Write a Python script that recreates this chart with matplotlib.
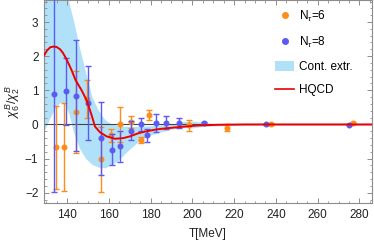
import matplotlib
matplotlib.use("Agg")
import matplotlib.pyplot as plt
from matplotlib.lines import Line2D
from matplotlib.patches import Patch
from matplotlib.ticker import MultipleLocator

plt.rcParams['font.family'] = ['Liberation Sans', 'DejaVu Sans']
plt.rcParams['mathtext.fontset'] = 'custom'
plt.rcParams['mathtext.rm'] = 'Liberation Sans'
plt.rcParams['mathtext.it'] = 'Liberation Sans:italic'

# N_tau = 8 lattice data
T8 = [133.8, 139.5, 144.1, 150.2, 156.1, 161.5, 165.4, 170.6, 175.3, 178.2, 182.6, 187.4, 193.5, 205.6, 235.5, 274.9]
y8 = [0.89, 0.97, 0.84, 0.63, -0.41, -0.74, -0.64, -0.18, 0.0, -0.31, 0.04, 0.05, 0.05, 0.05, 0.0, -0.01]
e8 = [2.88, 0.98, 1.62, 1.09, 1.06, 0.45, 0.45, 0.28, 0.18, 0.19, 0.27, 0.19, 0.15, 0.03, 0.02, 0.02]

# N_tau = 6 lattice data
T6 = [134.6, 138.7, 144.1, 149.6, 156.3, 161.0, 165.4, 170.6, 175.3, 179.4, 198.4, 216.4, 237.5, 277.0]
y6 = [-0.67, -0.65, 0.36, 0.75, -1.02, -0.32, 0.0, 0.08, -0.45, 0.27, -0.03, -0.1, 0.0, 0.04]
e6 = [1.22, 1.29, 1.21, 0.55, 0.95, 0.2, 0.52, 0.18, 0.08, 0.15, 0.17, 0.1, 0.02, 0.02]

# Continuum extrapolation band
band_T = [129, 131, 133, 135, 137, 139, 140, 141, 143, 146, 149, 152, 155, 158, 161, 164, 167, 170, 175, 180,
          185, 190, 195, 200, 205, 210, 220, 240, 260, 286]
band_hi = [5, 5, 5, 5, 5, 5, 3.9, 3.55, 3.07, 2.25, 1.5, 0.8, 0.42, 0.15, 0.02, -0.03, -0.05, -0.06, -0.05, -0.04,
           -0.02, 0.0, 0.08, 0.1, 0.06, 0.03, 0.02, 0.02, 0.02, 0.02]
band_lo = [-0.2, 0.08, 0.33, 0.55, 0.65, 0.62, 0.45, 0.3, -0.2, -0.7, -1.0, -1.17, -1.25, -1.27, -1.2, -1.08, -0.9,
           -0.72, -0.46, -0.31, -0.22, -0.14, -0.08, -0.1, -0.06, -0.04, -0.03, -0.02, -0.02, -0.02]

# HQCD curve
T_h = [129, 130.5, 132, 133.5, 135, 136.7, 138, 139.5, 141, 142.2, 144.1, 147, 149.4, 151.8, 153.4, 155.8, 159,
       163, 166.9, 170.1, 174, 178, 183.5, 188, 193, 202.6, 212, 225, 245, 265, 286]
y_h = [2.02, 2.17, 2.26, 2.28, 2.27, 2.2, 2.1, 1.94, 1.75, 1.59, 1.3, 1.0, 0.71, 0.27, -0.06, -0.23, -0.35,
       -0.42, -0.4, -0.35, -0.26, -0.2, -0.14, -0.11, -0.08, -0.03, -0.01, 0.0, 0.0, 0.0, 0.0]

c_blue = '#5b5bf2'
c_orange = '#ff8c1a'
c_band = '#b0e1f8'
c_frame = '#8c8c8c'

fig = plt.figure(figsize=(3.74, 2.44), dpi=100)
ax = fig.add_axes([44/374, 1 - 203/244, 328/374, 203/244 - 0.002])

ax.fill_between(band_T, band_lo, band_hi, color=c_band, lw=0, zorder=1)
ax.axhline(0, color='#444444', lw=0.8, zorder=2)
ax.errorbar(T6, y6, yerr=e6, fmt='o', color=c_orange, ms=3.3, elinewidth=1.0, capsize=2.5, capthick=1.0, zorder=3)
ax.errorbar(T8, y8, yerr=e8, fmt='o', color=c_blue, ms=3.3, elinewidth=1.0, capsize=2.5, capthick=1.0, zorder=4)
ax.plot(T_h, y_h, color='#ee0000', lw=1.4, zorder=5)

ax.set_xlim(129, 286)
ax.set_ylim(-2.3, 3.63)
ax.xaxis.set_major_locator(MultipleLocator(20))
ax.xaxis.set_minor_locator(MultipleLocator(5))
ax.yaxis.set_major_locator(MultipleLocator(1))
ax.yaxis.set_minor_locator(MultipleLocator(0.2))
ax.tick_params(which='both', direction='in', top=True, right=True, color=c_frame, labelsize=8.5,
               labelcolor='#222222')
ax.tick_params(which='major', length=3.5, width=0.7, pad=4)
ax.tick_params(which='minor', length=1.8, width=0.6)
for s in ax.spines.values():
    s.set_color(c_frame)
    s.set_linewidth(0.8)

ax.set_xlabel('T[MeV]', fontsize=8.5, labelpad=5, color='#222222')
ax.set_ylabel(r'$\chi_6^B/\chi_2^B$', fontsize=9, labelpad=2, color='#222222')

handles = [
    Line2D([], [], ls='none', marker='o', color=c_orange, ms=4),
    Line2D([], [], ls='none', marker='o', color=c_blue, ms=4),
    Patch(facecolor=c_band, edgecolor='none'),
    Line2D([], [], color='#ee0000', lw=1.2),
]
labels = [r'N$_\tau$=6', r'N$_\tau$=8', 'Cont. extr.', 'HQCD']
ax.legend(handles, labels, loc='upper left', bbox_to_anchor=(0.705, 0.96), frameon=False, fontsize=8.5,
          handlelength=1.6, handleheight=0.9, handletextpad=0.4, labelspacing=0.95, borderpad=0, borderaxespad=0)

fig.savefig('out.png', dpi=100)
